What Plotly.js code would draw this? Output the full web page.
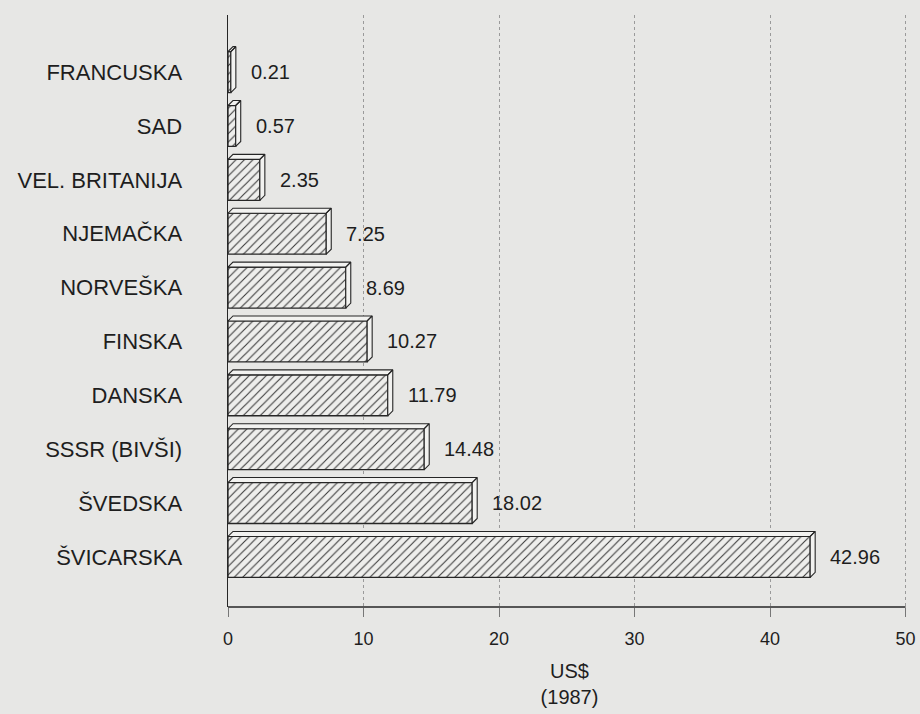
<!DOCTYPE html>
<html>
<head>
<meta charset="utf-8">
<script src="https://cdn.plot.ly/plotly-3.0.1.min.js"></script>
<style>
html,body{margin:0;padding:0;background:#e7e7e5;}
#chart{width:920px;height:714px;}
</style>
</head>
<body>
<div id="chart"></div>
<script>
// Data
const countries = ["FRANCUSKA", "SAD", "VEL. BRITANIJA", "NJEMAČKA", "NORVEŠKA", "FINSKA", "DANSKA", "SSSR (BIVŠI)", "ŠVEDSKA", "ŠVICARSKA"];
const values = [0.21, 0.57, 2.35, 7.25, 8.69, 10.27, 11.79, 14.48, 18.02, 42.96];
const xTicks = [0, 10, 20, 30, 40, 50];
const axisTitle = "US$<br>(1987)";

// style constants
const bg = "#e7e7e5";
const ink = "#262626";
const font = "Liberation Sans, Arial, sans-serif";
const barW = 0.76;
const xRange = [0, 50.4];
const yRange = [9.93, -1.06];
const plotLeft = 228, plotRight = 9, plotTop = 15, plotBottom = 107;
const pxPerX = (920 - plotLeft - plotRight) / (xRange[1] - xRange[0]);
const pxPerY = (714 - plotTop - plotBottom) / (yRange[0] - yRange[1]);
const depthX = 5 / pxPerX;   // 3D depth, horizontal
const depthY = 5 / pxPerY;   // 3D depth, vertical

const idx = countries.map((c, i) => i);

const bars = {
  type: "bar",
  orientation: "h",
  x: values,
  y: idx,
  width: barW,
  marker: {
    color: bg,
    line: {color: ink, width: 1.3},
    pattern: {shape: "/", fgcolor: "#3a3a3a", bgcolor: "#eeeeec", size: 6, solidity: 0.18}
  },
  hoverinfo: "x+y",
  showlegend: false
};

// 3D faces (top and right side) derived from the values
const fx = [], fy = [];
values.forEach((v, i) => {
  const top = i - barW / 2, bot = i + barW / 2;
  fx.push(0, v, v + depthX, depthX, 0, null);
  fy.push(top, top, top - depthY, top - depthY, top, null);
  fx.push(v, v + depthX, v + depthX, v, v, null);
  fy.push(top, top - depthY, bot - depthY, bot, top, null);
});
const faces = {
  type: "scatter",
  mode: "lines",
  x: fx,
  y: fy,
  fill: "toself",
  fillcolor: "#f2f2f0",
  line: {color: ink, width: 1.1},
  hoverinfo: "skip",
  showlegend: false
};

const annotations = values.map((v, i) => ({
  x: v,
  y: i,
  xref: "x",
  yref: "y",
  text: v.toFixed(2),
  showarrow: false,
  xanchor: "left",
  yanchor: "middle",
  xshift: 18,
  font: {family: font, size: 20, color: "#1e1e1e"}
}));

const layout = {
  width: 920,
  height: 714,
  paper_bgcolor: bg,
  plot_bgcolor: bg,
  margin: {l: plotLeft, r: plotRight, t: plotTop, b: plotBottom},
  font: {family: font, color: "#1e1e1e"},
  xaxis: {
    range: xRange,
    tickvals: xTicks,
    ticktext: xTicks.map(String),
    showgrid: true,
    gridcolor: "#9a9a9a",
    griddash: "dot",
    gridwidth: 1,
    zeroline: false,
    showline: false,
    ticks: "outside",
    ticklen: 9,
    tickcolor: "#777",
    tickwidth: 1,
    ticklabelstandoff: 6,
    ticklabeloverflow: "allow",
    tickfont: {family: font, size: 18, color: "#1e1e1e"},
    title: {text: axisTitle, font: {family: font, size: 20, color: "#1e1e1e"}, standoff: 16},
    fixedrange: true
  },
  yaxis: {
    range: yRange,
    tickvals: idx,
    ticktext: countries,
    showgrid: false,
    zeroline: false,
    showline: true,
    linecolor: ink,
    linewidth: 1.5,
    ticks: "",
    ticklabelstandoff: 40,
    tickfont: {family: font, size: 22, color: "#1e1e1e"},
    fixedrange: true
  },
  shapes: [
    // x axis baseline from 0 to the last tick
    {type: "line", xref: "x", yref: "paper", x0: xTicks[0], x1: xTicks[xTicks.length - 1], y0: 0, y1: 0,
     line: {color: ink, width: 1.5}}
  ],
  annotations: annotations,
  bargap: 0.2
};

Plotly.newPlot("chart", [bars, faces], layout, {displayModeBar: false, staticPlot: true});
</script>
</body>
</html>
